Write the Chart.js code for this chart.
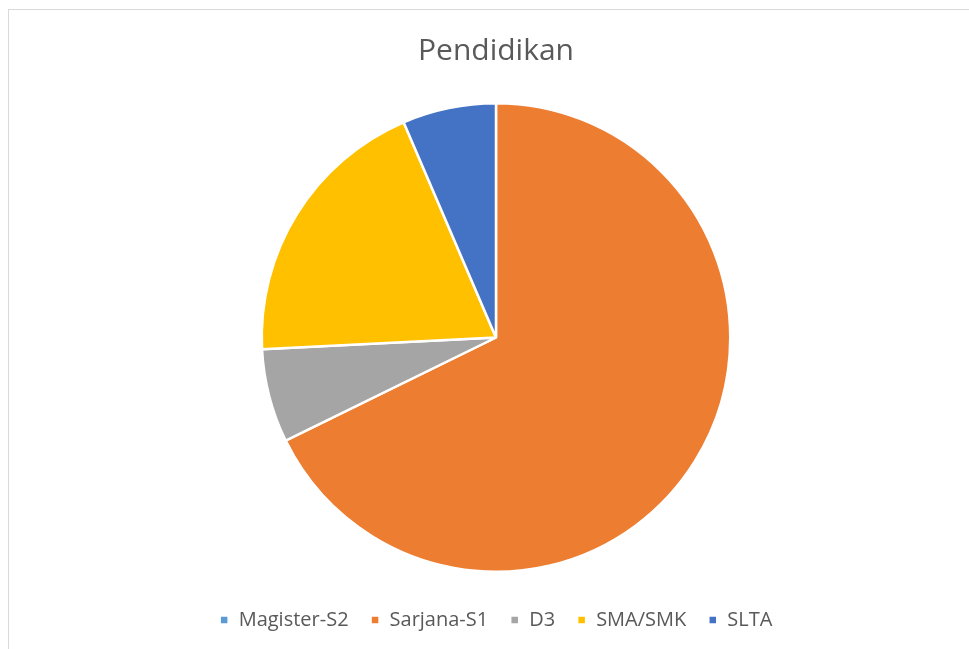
<!DOCTYPE html>
<html lang="id">
<head>
    <meta charset="UTF-8">
    <title>Pendidikan</title>
    <script src="https://cdn.jsdelivr.net/npm/chart.js@4.4.1/dist/chart.umd.min.js"></script>
    <style>
        html, body { margin: 0; padding: 0; background: #fff; overflow: hidden; }
        .frame { position: absolute; left: 8px; top: 9px; width: 1000px; height: 700px; border: 1px solid #d9d9d9; }
        .chart-wrapper { position: absolute; left: 0; top: 0; width: 969px; height: 649px; }
    </style>
</head>
<body>
<div class="frame"></div>
<div class="chart-wrapper">
    <canvas id="pie"></canvas>
</div>
<script>
    const categories = ['Magister-S2', 'Sarjana-S1', 'D3', 'SMA/SMK', 'SLTA']
    const jumlah = [0, 21, 2, 6, 2]
    const warna = ['#5B9BD5', '#ED7D31', '#A5A5A5', '#FFC000', '#4472C4']

    new Chart(document.getElementById('pie'), {
        type: 'pie',
        data: {
            labels: categories,
            datasets: [{
                data: jumlah,
                backgroundColor: warna,
                borderColor: '#ffffff',
                borderWidth: 2.5
            }]
        },
        options: {
            responsive: true,
            maintainAspectRatio: false,
            animation: false,
            layout: {
                padding: {top: 23, bottom: 9, left: 23, right: 0}
            },
            plugins: {
                title: {
                    display: true,
                    text: 'Pendidikan',
                    color: '#595959',
                    font: {family: 'Open Sans', size: 30, weight: 'normal'},
                    padding: {top: 10, bottom: 33}
                },
                legend: {
                    position: 'bottom',
                    // empty legend title, only used as a spacer above the items
                    title: {
                        display: true,
                        text: '',
                        font: {size: 1, lineHeight: 1},
                        padding: {top: 14, bottom: 0}
                    },
                    labels: {
                        color: '#595959',
                        font: {family: 'Open Sans', size: 20},
                        boxWidth: 9,
                        boxHeight: 9,
                        padding: 22
                    }
                },
                tooltip: {enabled: false}
            }
        }
    })
</script>
</body>
</html>
